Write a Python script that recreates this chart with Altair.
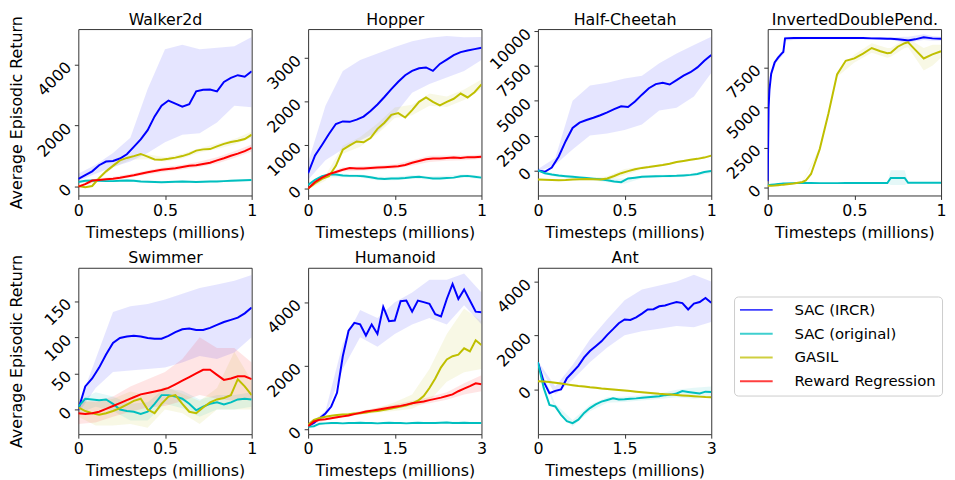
import altair as alt
import pandas as pd

SERIES = ["SAC (IRCR)", "SAC (original)", "GASIL", "Reward Regression"]
COLORS = ["#0000ff", "#00bfbf", "#bfbf00", "#ff0000"]

# ---- x grids (millions of timesteps) ----
X_1M = [0, 0.04, 0.08, 0.12, 0.16, 0.2, 0.24, 0.28, 0.32, 0.36, 0.4, 0.44, 0.48,
        0.52, 0.56, 0.6, 0.64, 0.68, 0.72, 0.76, 0.8, 0.84, 0.88, 0.92, 0.96, 1.0]
XB_1M = [0, 0.1, 0.2, 0.3, 0.4, 0.5, 0.6, 0.7, 0.8, 0.9, 1.0]
X_3M = [0, 0.1, 0.2, 0.3, 0.4, 0.5, 0.6, 0.7, 0.8, 0.9, 1.0, 1.1, 1.2, 1.3, 1.4, 1.5,
        1.6, 1.7, 1.8, 1.9, 2.0, 2.1, 2.2, 2.3, 2.4, 2.5, 2.6, 2.7, 2.8, 2.9, 3.0]
XB_3M = [0, 0.3, 0.6, 0.9, 1.2, 1.5, 1.8, 2.1, 2.4, 2.7, 3.0]

# ---- Walker2d ----
WALKER_IRCR = [250, 380, 500, 700, 820, 840, 920, 1060, 1300, 1550, 1850, 2300, 2650,
               2820, 2720, 2620, 2700, 3120, 3170, 3180, 3120, 3430, 3560, 3650, 3600, 3780]
WALKER_SAC = [150, 190, 200, 190, 180, 180, 190, 200, 190, 170, 160, 150, 140,
              150, 160, 170, 160, 150, 160, 170, 170, 180, 190, 200, 210, 220]
WALKER_GASIL = [20, -20, 20, 280, 500, 680, 860, 940, 1000, 1070, 980, 890, 880,
                910, 950, 1000, 1070, 1180, 1220, 1230, 1320, 1400, 1460, 1500, 1560, 1700]
WALKER_RR = [0, 80, 200, 220, 240, 260, 290, 330, 370, 420, 470, 510, 550,
             580, 600, 640, 680, 700, 740, 780, 860, 930, 1010, 1080, 1160, 1270]
WALKER_IRCR_LO = [180, 420, 640, 820, 1100, 1450, 1700, 1750, 2100, 2650, 2600]
WALKER_IRCR_HI = [420, 720, 1100, 1600, 3200, 4500, 4650, 4500, 4550, 4600, 4900]
WALKER_SAC_LO = [120, 160, 150, 160, 130, 110, 130, 120, 140, 160, 190]
WALKER_SAC_HI = [190, 230, 220, 240, 200, 180, 200, 190, 210, 230, 260]
WALKER_GASIL_LO = [0, 130, 620, 880, 900, 820, 920, 1120, 1230, 1380, 1600]
WALKER_GASIL_HI = [40, 250, 740, 1020, 1060, 960, 1080, 1260, 1400, 1560, 1800]
WALKER_RR_LO = [-40, 170, 220, 300, 400, 490, 560, 640, 760, 940, 1150]
WALKER_RR_HI = [40, 260, 320, 420, 540, 640, 720, 820, 960, 1160, 1380]

# ---- Hopper ----
HOPPER_IRCR = [350, 760, 1000, 1250, 1480, 1540, 1530, 1580, 1650, 1780, 1930, 2100, 2280,
               2450, 2600, 2700, 2760, 2780, 2700, 2860, 2960, 3060, 3130, 3170, 3200, 3230]
HOPPER_SAC = [80, 200, 280, 320, 320, 300, 290, 290, 280, 260, 230, 220, 230,
              230, 240, 260, 270, 250, 230, 230, 240, 250, 280, 290, 270, 250]
HOPPER_GASIL = [0, 120, 220, 280, 520, 890, 990, 1080, 1060, 1160, 1370, 1510, 1690,
                1730, 1630, 1800, 1990, 2090, 1990, 1910, 1990, 2060, 2180, 2090, 2210, 2390]
HOPPER_RR = [0, 150, 250, 330, 380, 430, 470, 460, 460, 470, 480, 490, 500,
             510, 540, 590, 630, 670, 690, 690, 700, 710, 700, 720, 720, 730]
HOPPER_IRCR_LO = [200, 650, 900, 1100, 1300, 1700, 2200, 2400, 2550, 2700, 2950]
HOPPER_IRCR_HI = [600, 1900, 2700, 2950, 3100, 3250, 3380, 3460, 3500, 3470, 3480]
HOPPER_SAC_LO = [40, 250, 260, 250, 190, 190, 230, 200, 210, 250, 210]
HOPPER_SAC_HI = [120, 330, 340, 330, 270, 270, 310, 280, 290, 330, 290]
HOPPER_GASIL_LO = [-20, 180, 800, 960, 1250, 1620, 1680, 1900, 1870, 2030, 2280]
HOPPER_GASIL_HI = [20, 300, 980, 1180, 1490, 1860, 1920, 2180, 2110, 2270, 2500]
HOPPER_RR_LO = [-20, 240, 390, 410, 430, 455, 530, 610, 640, 650, 680]
HOPPER_RR_HI = [20, 340, 490, 510, 530, 555, 650, 750, 760, 760, 780]

# ---- Half-Cheetah ----
HC_IRCR = [0, -100, 200, 1000, 2100, 3050, 3430, 3620, 3780, 3960, 4170, 4400, 4600,
           4560, 4950, 5440, 5900, 6200, 6300, 6170, 6480, 6800, 7050, 7400, 7880, 8290]
HC_SAC = [0, -200, -300, -370, -420, -460, -500, -550, -590, -630, -700, -790, -850,
          -580, -520, -460, -440, -420, -410, -400, -390, -360, -320, -260, -120, -50]
HC_GASIL = [-650, -670, -690, -700, -690, -660, -630, -620, -640, -660, -580, -400, -200,
            -50, 80, 180, 240, 320, 390, 480, 600, 680, 760, 830, 920, 1060]
HC_IRCR_LO = [-100, 400, 1500, 2500, 2650, 2900, 3300, 4300, 4500, 5300, 7000]
HC_IRCR_HI = [100, 900, 5000, 6100, 6300, 6600, 6800, 7700, 8400, 9000, 9600]
HC_SAC_LO = [-100, -450, -560, -680, -850, -950, -560, -520, -490, -420, -200]
HC_SAC_HI = [100, -250, -360, -480, -580, -580, -360, -320, -290, -200, 50]
HC_GASIL_LO = [-700, -760, -720, -700, -750, -350, 80, 280, 530, 730, 980]
HC_GASIL_HI = [-600, -640, -600, -560, -420, 100, 280, 420, 670, 870, 1140]

# ---- InvertedDoublePendulum ----
IDP_X = [0, 0.005, 0.01, 0.02, 0.04, 0.06, 0.08, 0.09, 0.1, 0.15, 0.2, 0.22, 0.25, 0.3,
         0.35, 0.4, 0.45, 0.5, 0.55, 0.6, 0.65, 0.69, 0.71, 0.75, 0.79, 0.81, 0.85, 0.9, 0.95, 1.0]
IDP_IRCR = [400, 5000, 6100, 7100, 7800, 8100, 8350, 8450, 9300, 9330, 9330, 9330, 9330, 9330,
            9330, 9330, 9330, 9330, 9320, 9300, 9290, 9280, 9270, 9250, 9200, 9170, 9240, 9370, 9300, 9270]
IDP_SAC = [150, 160, 170, 180, 200, 220, 240, 250, 260, 280, 290, 290, 290, 280,
           280, 280, 290, 290, 290, 290, 290, 290, 600, 600, 600, 300, 300, 300, 300, 300]
IDP_GASIL = [100, 110, 110, 120, 130, 150, 170, 180, 200, 260, 350, 450, 850, 2400,
             4600, 7050, 7900, 8050, 8350, 8700, 8500, 8380, 8400, 8780, 9000, 9050, 8600, 8050, 8300, 8500]
IDP_BX = [0, 0.005, 0.02, 0.05, 0.09, 0.1, 0.2, 0.3, 0.4, 0.5, 0.6, 0.69, 0.71, 0.79, 0.81, 0.9, 0.95, 1.0]
IDP_IRCR_LO = [300, 4700, 6900, 7800, 8300, 9150, 9250, 9270, 9270, 9270, 9230, 9200, 9200, 9050, 9050, 9200, 9150, 9150]
IDP_IRCR_HI = [500, 5300, 7300, 8100, 8600, 9400, 9400, 9400, 9400, 9400, 9380, 9360, 9350, 9400, 9400, 9550, 9450, 9400]
IDP_SAC_LO = [130, 140, 160, 190, 220, 240, 260, 250, 250, 260, 260, 260, 160, 160, 270, 270, 270, 270]
IDP_SAC_HI = [170, 180, 200, 230, 260, 280, 320, 310, 310, 320, 320, 320, 1080, 1080, 330, 330, 330, 330]
IDP_GASIL_LO = [80, 90, 100, 120, 160, 180, 320, 2300, 6900, 7800, 8400, 8100, 8150, 8700, 8750, 7300, 7600, 8100]
IDP_GASIL_HI = [120, 130, 140, 160, 200, 220, 380, 2500, 7200, 8300, 9000, 8700, 8700, 9250, 9300, 8700, 8900, 8900]

# ---- Swimmer ----
SWIM_IRCR = [0, 32, 43, 58, 76, 92, 99, 101, 102, 101, 99, 98, 98,
             102, 107, 111, 112, 110, 110, 113, 117, 121, 124, 127, 133, 141]
SWIM_SAC = [4, 15, 14, 13, 14, 8, 0, -2, -3, -6, -3, 8, 20,
            20, 18, 15, 8, -1, 4, 8, 10, 7, 10, 14, 15, 14]
SWIM_GASIL = [3, -2, -5, -7, -5, -2, 2, 7, 12, 15, 0, -5, 8,
              18, 20, 8, -3, -5, 3, 10, 14, 16, 20, 42, 32, 20]
SWIM_RR = [-5, -6, -5, -3, 1, 5, 9, 13, 17, 21, 23, 25, 27,
           30, 35, 40, 45, 50, 55, 55, 48, 41, 43, 46, 46, 42]
SWIM_IRCR_LO = [-5, 30, 52, 54, 56, 58, 65, 74, 70, 79, 100]
SWIM_IRCR_HI = [5, 70, 135, 143, 146, 152, 160, 168, 173, 178, 186]
SWIM_SAC_LO = [-5, 4, -2, -15, -15, 8, 2, -10, 0, 0, 4]
SWIM_SAC_HI = [12, 24, 18, 8, 10, 30, 26, 14, 20, 20, 24]
SWIM_GASIL_LO = [-10, -22, -22, -20, -25, 0, -5, -20, 0, 0, 0]
SWIM_GASIL_HI = [15, 10, 15, 25, 20, 32, 22, 12, 30, 80, 40]
SWIM_RR_LO = [-20, -18, -10, -3, 3, 5, 12, 20, 15, 12, 15]
SWIM_RR_HI = [10, 12, 18, 32, 42, 52, 70, 100, 85, 85, 65]

# ---- Humanoid ----
HUM_IRCR = [100, 200, 350, 500, 720, 1150, 2300, 3100, 3350, 3300, 2950, 3300, 3000, 3850, 3400, 3420,
            4030, 4050, 3700, 4050, 4000, 3950, 3620, 3550, 4100, 4570, 4100, 4400, 4050, 3700, 3680]
HUM_SAC = [80, 100, 180, 190, 200, 200, 190, 200, 200, 210, 200, 200, 190, 200, 210, 200,
           200, 190, 200, 210, 200, 200, 200, 210, 220, 200, 200, 210, 200, 200, 200]
HUM_GASIL = [150, 300, 360, 400, 430, 450, 470, 480, 500, 510, 530, 560, 580, 610, 640, 680,
             720, 760, 820, 900, 1050, 1300, 1600, 1950, 2200, 2300, 2350, 2550, 2450, 2800, 2650]
HUM_RR = [100, 250, 300, 320, 350, 380, 410, 440, 480, 520, 560, 590, 620, 650, 680, 710,
          740, 780, 820, 850, 880, 920, 960, 1000, 1050, 1100, 1200, 1280, 1360, 1450, 1420]
HUM_IRCR_LO = [50, 420, 1900, 2900, 2600, 3000, 3300, 3500, 3300, 3900, 3300]
HUM_IRCR_HI = [150, 580, 2700, 3750, 3500, 4000, 4300, 4700, 4700, 4900, 4300]
HUM_SAC_LO = [60, 160, 160, 180, 160, 170, 170, 170, 190, 180, 170]
HUM_SAC_HI = [100, 220, 220, 240, 220, 230, 230, 230, 250, 240, 230]
HUM_GASIL_LO = [120, 370, 430, 460, 520, 580, 650, 900, 1500, 1800, 1900]
HUM_GASIL_HI = [180, 430, 510, 570, 680, 850, 1100, 1900, 3000, 3800, 3400]
HUM_RR_LO = [80, 290, 370, 470, 560, 640, 740, 820, 930, 1100, 1200]
HUM_RR_HI = [120, 350, 450, 570, 680, 780, 900, 1020, 1170, 1450, 1700]

# ---- Ant ----
ANT_IRCR = [1000, 280, -150, -60, -10, 400, 630, 870, 1180, 1420, 1600, 1780, 2020, 2230, 2450, 2590,
            2570, 2670, 2810, 2960, 2970, 3080, 3110, 3180, 3240, 3200, 2960, 3180, 3240, 3390, 3210]
ANT_SAC = [1000, 50, -580, -640, -950, -1190, -1260, -1130, -880, -700, -560, -460, -400, -340, -380, -370,
           -350, -340, -320, -300, -280, -260, -220, -200, -160, -70, -100, -130, -160, -90, -100]
ANT_GASIL = [300, 290, 270, 240, 210, 180, 150, 120, 100, 75, 55, 30, 10, -10, -30, -50,
             -70, -90, -110, -130, -150, -170, -185, -200, -215, -230, -245, -260, -275, -290, -300]
ANT_IRCR_LO = [950, -200, 350, 1000, 1550, 2000, 2150, 2250, 2350, 2300, 2500]
ANT_IRCR_HI = [1050, 100, 900, 1850, 2600, 3300, 3700, 3850, 4000, 4250, 4000]
ANT_SAC_LO = [950, -740, -1380, -820, -500, -470, -420, -360, -300, -350, -300]
ANT_SAC_HI = [1050, -540, -1140, -580, -300, -270, -220, -160, -20, 50, 100]
ANT_GASIL_LO = [260, 200, 110, 35, -30, -90, -150, -210, -255, -300, -340]
ANT_GASIL_HI = [340, 280, 190, 115, 50, -10, -70, -130, -175, -220, -260]

LEGEND = alt.Legend(
    title=None, orient="none", legendX=662, legendY=270, direction="vertical",
    symbolType="M-3,0L3,0", symbolSize=121, symbolStrokeWidth=2, symbolOffset=9,
    symbolOpacity=0.75, labelOffset=31, labelFontSize=15, labelFont="DejaVu Sans",
    labelColor="black", rowPadding=8, padding=6, strokeColor="#cccccc",
    fillColor="white", cornerRadius=4,
)

PW, PH = 175, 168


def panel(title, x, means, bx, bands, xdom, xticks, ydom, yticks, ytitle=None):
    rows = []
    for name, ys in means.items():
        for xi, yi in zip(x, ys):
            rows.append({"x": xi, "y": yi, "series": name})
    brows = []
    for name, (lo, hi) in bands.items():
        col = COLORS[SERIES.index(name)]
        for xi, l, h in zip(bx, lo, hi):
            brows.append({"x": xi, "lo": l, "hi": h, "series": name, "c": col})
    xscale = alt.Scale(domain=xdom, nice=False, zero=False)
    yscale = alt.Scale(domain=ydom, nice=False, zero=False)
    yaxis = alt.Axis(values=yticks, format="d", title=ytitle)
    top_axis = alt.Axis(orient="top", title=title, labels=False, ticks=False, domain=False,
                        minExtent=0, maxExtent=0, titlePadding=2, titleFontSize=16)
    bottom_axis = alt.Axis(orient="bottom", values=xticks, format=".2~g",
                           title="Timesteps (millions)")
    area = alt.Chart(pd.DataFrame(brows)).mark_area(opacity=0.1, clip=True).encode(
        x=alt.X("x:Q", scale=xscale, axis=top_axis),
        y=alt.Y("lo:Q", scale=yscale, axis=yaxis),
        y2="hi:Q",
        fill=alt.Fill("c:N", scale=None),
        detail="series:N",
    )
    line = alt.Chart(pd.DataFrame(rows)).mark_line(strokeWidth=2, clip=True).encode(
        x=alt.X("x:Q", scale=xscale, axis=bottom_axis),
        y=alt.Y("y:Q", scale=yscale, axis=yaxis),
        color=alt.Color("series:N", scale=alt.Scale(domain=SERIES, range=COLORS), legend=LEGEND),
    )
    return alt.layer(area, line).resolve_axis(x="independent").properties(width=PW, height=PH)


YT = "Average Episodic Return"
charts = [
    panel("Walker2d", X_1M,
          {SERIES[0]: WALKER_IRCR, SERIES[1]: WALKER_SAC, SERIES[2]: WALKER_GASIL, SERIES[3]: WALKER_RR},
          XB_1M,
          {SERIES[0]: (WALKER_IRCR_LO, WALKER_IRCR_HI), SERIES[1]: (WALKER_SAC_LO, WALKER_SAC_HI),
           SERIES[2]: (WALKER_GASIL_LO, WALKER_GASIL_HI), SERIES[3]: (WALKER_RR_LO, WALKER_RR_HI)},
          [0, 1], [0, 0.5, 1], [-290, 5160], [0, 2000, 4000], YT),
    panel("Hopper", X_1M,
          {SERIES[0]: HOPPER_IRCR, SERIES[1]: HOPPER_SAC, SERIES[2]: HOPPER_GASIL, SERIES[3]: HOPPER_RR},
          XB_1M,
          {SERIES[0]: (HOPPER_IRCR_LO, HOPPER_IRCR_HI), SERIES[1]: (HOPPER_SAC_LO, HOPPER_SAC_HI),
           SERIES[2]: (HOPPER_GASIL_LO, HOPPER_GASIL_HI), SERIES[3]: (HOPPER_RR_LO, HOPPER_RR_HI)},
          [0, 1], [0, 0.5, 1], [-160, 3660], [0, 1000, 2000, 3000]),
    panel("Half-Cheetah", X_1M,
          {SERIES[0]: HC_IRCR, SERIES[1]: HC_SAC, SERIES[2]: HC_GASIL},
          XB_1M,
          {SERIES[0]: (HC_IRCR_LO, HC_IRCR_HI), SERIES[1]: (HC_SAC_LO, HC_SAC_HI),
           SERIES[2]: (HC_GASIL_LO, HC_GASIL_HI)},
          [0, 1], [0, 0.5, 1], [-1800, 10150], [0, 2500, 5000, 7500, 10000]),
    panel("InvertedDoublePend.", IDP_X,
          {SERIES[0]: IDP_IRCR, SERIES[1]: IDP_SAC, SERIES[2]: IDP_GASIL},
          IDP_BX,
          {SERIES[0]: (IDP_IRCR_LO, IDP_IRCR_HI), SERIES[1]: (IDP_SAC_LO, IDP_SAC_HI),
           SERIES[2]: (IDP_GASIL_LO, IDP_GASIL_HI)},
          [0, 1], [0, 0.5, 1], [-490, 9880], [0, 2500, 5000, 7500]),
    panel("Swimmer", X_1M,
          {SERIES[0]: SWIM_IRCR, SERIES[1]: SWIM_SAC, SERIES[2]: SWIM_GASIL, SERIES[3]: SWIM_RR},
          XB_1M,
          {SERIES[0]: (SWIM_IRCR_LO, SWIM_IRCR_HI), SERIES[1]: (SWIM_SAC_LO, SWIM_SAC_HI),
           SERIES[2]: (SWIM_GASIL_LO, SWIM_GASIL_HI), SERIES[3]: (SWIM_RR_LO, SWIM_RR_HI)},
          [0, 1], [0, 0.5, 1], [-34, 196], [0, 50, 100, 150], YT),
    panel("Humanoid", X_3M,
          {SERIES[0]: HUM_IRCR, SERIES[1]: HUM_SAC, SERIES[2]: HUM_GASIL, SERIES[3]: HUM_RR},
          XB_3M,
          {SERIES[0]: (HUM_IRCR_LO, HUM_IRCR_HI), SERIES[1]: (HUM_SAC_LO, HUM_SAC_HI),
           SERIES[2]: (HUM_GASIL_LO, HUM_GASIL_HI), SERIES[3]: (HUM_RR_LO, HUM_RR_HI)},
          [0, 3], [0, 1.5, 3], [-150, 5080], [0, 2000, 4000]),
    panel("Ant", X_3M,
          {SERIES[0]: ANT_IRCR, SERIES[1]: ANT_SAC, SERIES[2]: ANT_GASIL},
          XB_3M,
          {SERIES[0]: (ANT_IRCR_LO, ANT_IRCR_HI), SERIES[1]: (ANT_SAC_LO, ANT_SAC_HI),
           SERIES[2]: (ANT_GASIL_LO, ANT_GASIL_HI)},
          [0, 3], [0, 1.5, 3], [-1670, 4510], [0, 2000, 4000]),
]

chart = alt.concat(*charts, columns=4, spacing={"row": 73, "column": 57}, bounds="flush").properties(
    padding=0
).configure_axis(
    labelFont="DejaVu Sans", labelFontSize=16, labelColor="black",
    titleFont="DejaVu Sans", titleFontSize=16, titleFontWeight="normal", titleColor="black",
    grid=False, domain=False, tickColor="#333333", tickSize=4, labelFlush=False,
    labelOverlap=False, labelBound=False,
).configure_axisX(
    labelPadding=3, titlePadding=6,
).configure_axisY(
    labelAngle=-45, labelAlign="right", labelBaseline="middle", labelPadding=6,
    minExtent=46, maxExtent=46, titlePadding=8,
).configure_view(
    stroke="#333333", strokeWidth=1,
)

chart.save("out.html", embed_options={"renderer": "svg", "actions": False})
